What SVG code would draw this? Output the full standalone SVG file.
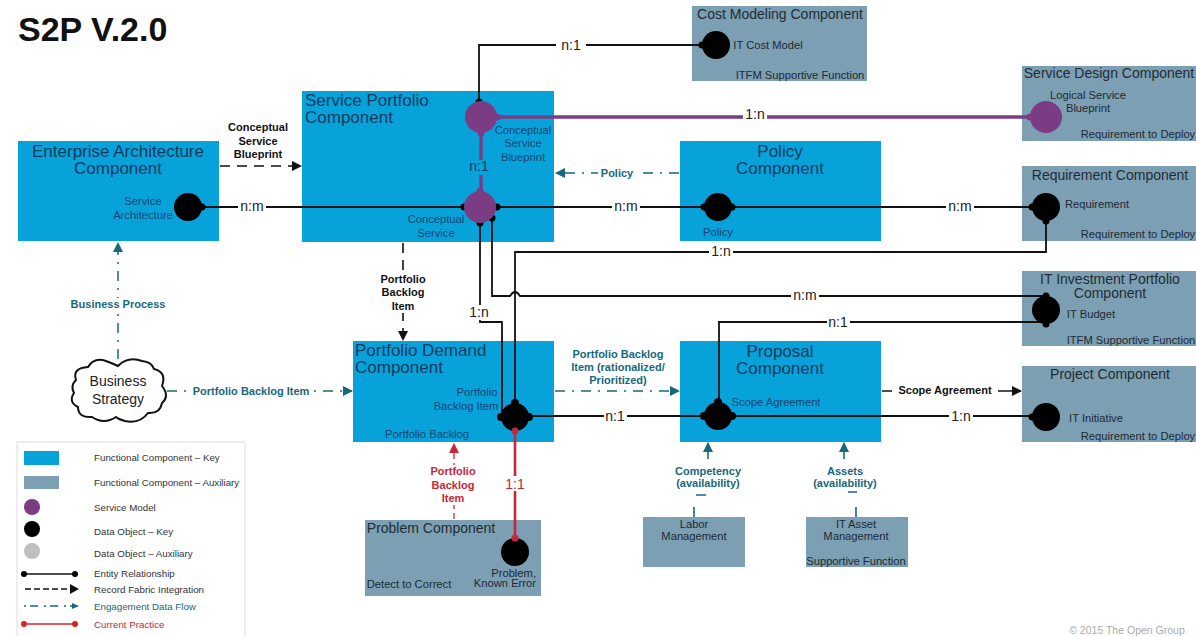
<svg xmlns="http://www.w3.org/2000/svg" width="1196" height="636" viewBox="0 0 1196 636">
<style>
text{font-family:"Liberation Sans",Arial,sans-serif;text-anchor:middle}
.key{fill:#08a2da}.aux{fill:#7c9fb4}
.t1{font-size:17px;fill:#0c3b5e}.t2{font-size:14px;fill:#222c33}
.s1{font-size:11.2px;fill:#0f4470}.s2{font-size:11.2px;fill:#1c2a33}
.r{font-size:14px;fill:#222}
.b{font-size:11px;font-weight:bold;fill:#111}.g{font-size:11px;font-weight:bold;fill:#17687c}.red{font-size:11px;font-weight:bold;fill:#c8263a}
.leg{font-size:9.75px;text-anchor:start;fill:#333}
.er{fill:none;stroke:#111;stroke-width:1.8}
.pu{fill:none;stroke:#7c3c83;stroke-width:3.4}
.rf{fill:none;stroke:#111;stroke-width:1.6;stroke-dasharray:10 7}
.ed{fill:none;stroke:#17687c;stroke-width:1.5;stroke-dasharray:10 7 2 7}
.cp{fill:none;stroke:#c8263a;stroke-width:2.6}
.bd{fill:#000}.sm{fill:#7c3c83}
.mask{fill:#fff}
</style>
<defs>
<marker id="ab" markerWidth="11" markerHeight="12" refX="9" refY="5.5" orient="auto" markerUnits="userSpaceOnUse"><path d="M0 0.5L10 5.5L0 10.5Z" fill="#111"/></marker>
<marker id="ag" markerWidth="11" markerHeight="12" refX="9" refY="5.5" orient="auto" markerUnits="userSpaceOnUse"><path d="M0 0.5L10 5.5L0 10.5Z" fill="#17687c"/></marker>
<marker id="ar" markerWidth="11" markerHeight="12" refX="9" refY="5.5" orient="auto" markerUnits="userSpaceOnUse"><path d="M0 0.5L10 5.5L0 10.5Z" fill="#c8263a"/></marker>
</defs>
<text x="18" y="41" style="font-size:34px;font-weight:bold;text-anchor:start;fill:#111">S2P V.2.0</text>

<g id="enterprise-architecture"><rect class="key" x="18" y="141" width="201" height="100"/><text class="t1" x="118" y="157">Enterprise Architecture</text><text class="t1" x="118" y="174">Component</text><text class="s1" x="143" y="205">Service</text><text class="s1" x="143" y="219">Architecture</text></g>
<g id="service-portfolio"><rect class="key" x="302" y="91" width="252" height="151"/><text class="t1" x="305" y="106" style="text-anchor:start">Service Portfolio</text><text class="t1" x="305" y="123" style="text-anchor:start">Component</text><text class="s1" x="523" y="134">Conceptual</text><text class="s1" x="523" y="147">Service</text><text class="s1" x="523" y="161">Blueprint</text><text class="s1" x="436" y="223">Conceptual</text><text class="s1" x="436" y="237">Service</text></g>
<g id="policy"><rect class="key" x="680" y="141" width="201" height="100"/><text class="t1" x="780" y="157">Policy</text><text class="t1" x="780" y="174">Component</text><text class="s1" x="718" y="236">Policy</text></g>
<g id="cost-modeling"><rect class="aux" x="692" y="6" width="175" height="75"/><text class="t2" x="780" y="19">Cost Modeling Component</text><text class="s2" x="768" y="49">IT Cost Model</text><text class="s2" x="800" y="79">ITFM Supportive Function</text></g>
<g id="service-design"><rect class="aux" x="1022" y="66" width="174" height="75"/><text class="t2" x="1109" y="78">Service Design Component</text><text class="s2" x="1088" y="99">Logical Service</text><text class="s2" x="1088" y="112">Blueprint</text><text class="s2" x="1138" y="138">Requirement to Deploy</text></g>
<g id="requirement"><rect class="aux" x="1022" y="166" width="174" height="75"/><text class="t2" x="1110" y="180">Requirement Component</text><text class="s2" x="1097" y="208">Requirement</text><text class="s2" x="1138" y="238">Requirement to Deploy</text></g>
<g id="it-investment"><rect class="aux" x="1022" y="271" width="174" height="75"/><text class="t2" x="1110" y="284">IT Investment Portfolio</text><text class="t2" x="1110" y="298">Component</text><text class="s2" x="1091" y="318">IT Budget</text><text class="s2" x="1131" y="344">ITFM Supportive Function</text></g>
<g id="project"><rect class="aux" x="1022" y="366" width="174" height="76"/><text class="t2" x="1110" y="379">Project Component</text><text class="s2" x="1096" y="422">IT Initiative</text><text class="s2" x="1138" y="440">Requirement to Deploy</text></g>
<g id="portfolio-demand"><rect class="key" x="353" y="341" width="201" height="101"/><text class="t1" x="355" y="356" style="text-anchor:start">Portfolio Demand</text><text class="t1" x="355" y="373" style="text-anchor:start">Component</text><text class="s1" x="477" y="396">Portfolio</text><text class="s1" x="466" y="410">Backlog Item</text><text class="s1" x="427" y="438">Portfolio Backlog</text></g>
<g id="proposal"><rect class="key" x="680" y="341" width="201" height="101"/><text class="t1" x="780" y="357">Proposal</text><text class="t1" x="780" y="374">Component</text><text class="s1" x="776" y="406">Scope Agreement</text></g>
<g id="problem"><rect class="aux" x="365" y="520" width="176" height="76"/><text class="t2" x="431" y="533">Problem Component</text><text class="s2" x="536" y="577" style="text-anchor:end">Problem,</text><text class="s2" x="536" y="587" style="text-anchor:end">Known Error</text><text class="s2" x="409" y="588">Detect to Correct</text></g>
<g id="labor"><rect class="aux" x="643" y="517" width="102" height="50"/><text class="s2" x="694" y="528">Labor</text><text class="s2" x="694" y="540">Management</text></g>
<g id="it-asset"><rect class="aux" x="806" y="517" width="102" height="50"/><text class="s2" x="856" y="528">IT Asset</text><text class="s2" x="856" y="540">Management</text><text class="s2" x="856" y="565">Supportive Function</text></g>
<g id="business-strategy"><path d="M76 380Q72 368 88 367Q94 357 106 361Q114 364 118 366Q128 356 142 361Q152 362 154 369Q167 372 162 386Q170 396 162 403Q160 414 148 413Q140 424 125 421Q118 419 116 417Q104 425 92 417Q78 418 78 407Q68 402 74 393Q70 386 76 380Z" fill="#fff" stroke="#111" stroke-width="2"/><text x="118" y="386" style="font-size:14px;fill:#222">Business</text><text x="118" y="404" style="font-size:14px;fill:#222">Strategy</text></g>

<g id="connectors">
<path class="er" d="M479 117V45H716"/>
<path class="er" d="M188 207H1046"/>
<path class="er" d="M515 416V252H1046V207"/>
<path class="er" d="M492 207V296H510Q515 288 520 296H1046"/>
<path class="er" d="M480 220V322H502V416"/>
<path class="er" d="M515 416H1046"/>
<path class="er" d="M719 416V322H1046"/>
<path class="pu" d="M481 117H1045"/>
<path class="pu" d="M481 117V205"/>
<path class="cp" d="M515 430V551"/>
<path class="rf" d="M220 166H301" marker-end="url(#ab)"/>
<path class="rf" d="M403 243V340" marker-end="url(#ab)"/>
<path class="ed" d="M679 173H556" marker-end="url(#ag)"/>
<path class="ed" d="M118 359V243" marker-end="url(#ag)"/>
<path class="ed" d="M167 391H352" marker-end="url(#ag)"/>
<path class="ed" d="M555 391H679" marker-end="url(#ag)"/>
<path d="M708 459V443" fill="none" stroke="#17687c" stroke-width="1.6" marker-end="url(#ag)"/>
<path d="M844 459V443" fill="none" stroke="#17687c" stroke-width="1.6" marker-end="url(#ag)"/>
<path fill="none" stroke="#17687c" stroke-width="1.6" d="M694 517V507M696 495H706"/>
<path fill="none" stroke="#17687c" stroke-width="1.6" d="M856 517V507M848 492H857"/>
<path class="cp" style="stroke-dasharray:6 4;stroke-width:1.3" d="M454 519V444" marker-end="url(#ar)"/>
<path d="M882 391H1021" class="er" style="stroke-width:1.5" marker-end="url(#ab)"/>
<g style="fill:#000"><circle cx="188" cy="207" r="14"/><circle cx="716" cy="45" r="14"/><circle cx="718" cy="207" r="14"/><circle cx="1046" cy="207" r="14"/><circle cx="1046" cy="310" r="14"/><circle cx="1046" cy="417" r="14"/><circle cx="515" cy="552" r="14"/><circle cx="515" cy="417" r="14"/><circle cx="718" cy="416" r="14"/>
<circle cx="202" cy="207" r="3.5"/><circle cx="702" cy="45" r="3.5"/><circle cx="704" cy="207" r="3.5"/><circle cx="732" cy="207" r="3.5"/><circle cx="1032" cy="207" r="3.5"/><circle cx="1046" cy="221" r="3.5"/><circle cx="1046" cy="296" r="3.5"/><circle cx="1046" cy="324" r="3.5"/><circle cx="1032" cy="417" r="3.5"/><circle cx="515" cy="403" r="4"/><circle cx="501" cy="417" r="4"/><circle cx="529" cy="417" r="4"/><circle cx="718" cy="402" r="4"/><circle cx="704" cy="416" r="4"/><circle cx="732" cy="416" r="4"/>
<circle cx="479" cy="102" r="3.5"/><circle cx="464" cy="207" r="3.5"/><circle cx="497" cy="207" r="3.5"/><circle cx="480" cy="223" r="3.5"/><circle cx="492" cy="218" r="3.5"/></g>
<circle cx="515" cy="538" r="3.5" fill="#c8263a"/><circle cx="515" cy="431" r="3.5" fill="#c8263a"/>
<g style="fill:#7c3c83"><circle cx="481" cy="117" r="16"/><circle cx="480" cy="207" r="16"/><circle cx="1046" cy="117" r="16"/><circle cx="497" cy="117" r="3.5"/><circle cx="1030" cy="117" r="3.5"/><circle cx="481" cy="133" r="3.5"/><circle cx="480" cy="191" r="3.5"/></g>
<g id="labels">
<rect x="556" y="38" width="30" height="14" class="mask"/><text class="r" x="571" y="50">n:1</text>
<rect x="743" y="108" width="24" height="18" class="mask"/><text class="r" x="755" y="119">1:n</text>
<rect x="468" y="160" width="23" height="15" fill="#08a2da"/><text class="r" x="479" y="171" style="fill:#0c3b5e">n:1</text>
<rect x="238" y="200" width="28" height="14" class="mask"/><text class="r" x="252" y="211">n:m</text>
<rect x="612" y="200" width="28" height="14" class="mask"/><text class="r" x="626" y="211">n:m</text>
<rect x="946" y="200" width="28" height="14" class="mask"/><text class="r" x="960" y="211">n:m</text>
<rect x="709" y="245" width="24" height="14" class="mask"/><text class="r" x="721" y="256">1:n</text>
<rect x="791" y="289" width="28" height="14" class="mask"/><text class="r" x="805" y="300">n:m</text>
<rect x="827" y="315" width="23" height="14" class="mask"/><text class="r" x="838" y="327">n:1</text>
<rect x="468" y="305" width="23" height="15" class="mask"/><text class="r" x="479" y="317">1:n</text>
<rect x="604" y="409" width="23" height="14" class="mask"/><text class="r" x="615" y="421">n:1</text>
<rect x="949" y="409" width="24" height="14" class="mask"/><text class="r" x="961" y="421">1:n</text>
<rect x="505" y="476" width="20" height="15" fill="#fff"/><text class="r" x="515" y="489" style="fill:#c8263a">1:1</text>
<rect x="226" y="122" width="64" height="40" class="mask"/><text class="b" x="258" y="131">Conceptual</text><text class="b" x="258" y="145">Service</text><text class="b" x="258" y="158">Blueprint</text>
<rect x="375" y="273" width="56" height="40" class="mask"/><text class="b" x="403" y="283">Portfolio</text><text class="b" x="403" y="296">Backlog</text><text class="b" x="403" y="310">Item</text>
<rect x="598" y="167" width="38" height="12" class="mask"/><text class="g" x="617" y="177">Policy</text>
<rect x="70" y="298" width="98" height="12" class="mask"/><text class="g" x="118" y="308">Business Process</text>
<rect x="190" y="385" width="122" height="12" class="mask"/><text class="g" x="251" y="395">Portfolio Backlog Item</text>
<rect x="566" y="348" width="102" height="38" class="mask"/><text class="g" x="618" y="358">Portfolio Backlog</text><text class="g" x="618" y="371">Item (rationalized/</text><text class="g" x="618" y="384">Prioritized)</text>
<rect x="892" y="385" width="106" height="12" class="mask"/><text class="b" x="945" y="394">Scope Agreement</text>
<text class="g" x="708" y="475">Competency</text><text class="g" x="708" y="487">(availability)</text>
<text class="g" x="845" y="475">Assets</text><text class="g" x="845" y="487">(availability)</text>
<rect x="428" y="465" width="52" height="40" class="mask"/><text class="red" x="453" y="475">Portfolio</text><text class="red" x="453" y="489">Backlog</text><text class="red" x="453" y="502">Item</text>
</g>
</g>

<g id="legend">
<path d="M17 636V442H245V636" fill="none" stroke="#ddd"/>
<rect class="key" x="24" y="451" width="35" height="14"/><text class="leg" x="94" y="461">Functional Component – Key</text>
<rect class="aux" x="24" y="476" width="35" height="13"/><text class="leg" x="94" y="486">Functional Component – Auxiliary</text>
<circle class="sm" cx="32" cy="507" r="8"/><text class="leg" x="94" y="511">Service Model</text>
<circle class="bd" cx="32" cy="529" r="8"/><text class="leg" x="94" y="535">Data Object – Key</text>
<circle cx="32" cy="551" r="8" fill="#bfbfbf"/><text class="leg" x="94" y="557">Data Object – Auxiliary</text>
<path d="M24 574H75" stroke="#111" stroke-width="1.3"/><circle cx="24" cy="574" r="3" fill="#000"/><circle cx="75" cy="574" r="3" fill="#000"/><text class="leg" x="94" y="577">Entity Relationship</text>
<path d="M25 589H72" stroke="#111" stroke-width="1.5" stroke-dasharray="6 3"/><path d="M70 584L79 589L70 594Z" fill="#111"/><text class="leg" x="94" y="593">Record Fabric Integration</text>
<path d="M24 606H72" stroke="#17687c" stroke-width="1.3" stroke-dasharray="2 4 8 6"/><path d="M72 603L79 606L72 609Z" fill="#17687c"/><text class="leg" x="94" y="610" style="fill:#17687c">Engagement Data Flow</text>
<path d="M24 624H75" stroke="#d2232a" stroke-width="1.3"/><circle cx="24" cy="624" r="3" fill="#d2232a"/><circle cx="75" cy="624" r="3" fill="#d2232a"/><text class="leg" x="94" y="628" style="fill:#c8263a">Current Practice</text>
</g>
<text x="1127" y="634" style="font-size:10.5px;fill:#aaa">© 2015 The Open Group</text>
</svg>
